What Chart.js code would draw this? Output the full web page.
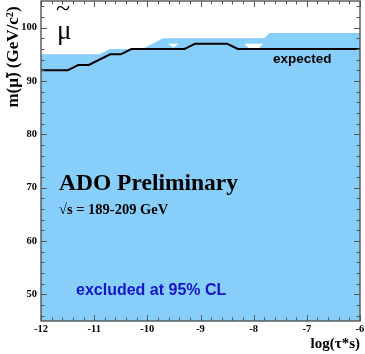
<!DOCTYPE html>
<html>
<head>
<meta charset="utf-8">
<script src="https://cdn.jsdelivr.net/npm/chart.js@4.4.0/dist/chart.umd.min.js"></script>
<style>
  html, body { margin: 0; padding: 0; background: #fff; }
  #wrap { width: 365px; height: 354px; }
</style>
</head>
<body>
<div id="wrap"><canvas id="limitChart"></canvas></div>
<script>
// expected limit (black line)
const expectedX = [-12, -11.5, -11.3, -11.1, -10.7, -10.5, -10.3, -9.3, -9.1, -8.5, -8.3, -6];
const expectedY = [92, 92, 93, 93, 95, 95, 96, 96, 97, 97, 96, 96];
// observed excluded region (upper edge)
const observedX = [-12, -10.9, -10.7, -10.1, -9.7, -7.8, -7.7, -6];
const observedY = [95, 95, 96, 96, 98, 98, 99, 99];
// small non-excluded pockets
const hole1X = [-9.61, -9.41, -9.51, -9.61];
const hole1Y = [97, 97, 96.3, 97];
const hole2X = [-8.18, -7.82, -7.9, -8.09, -8.18];
const hole2Y = [97, 97, 96.2, 96.2, 97];

const xTickLabels = [-12, -11, -10, -9, -8, -7, -6];
const yTickLabels = [50, 60, 70, 80, 90, 100];

const toPts = (xs, ys) => xs.map((x, i) => ({ x: x, y: ys[i] }));

const frameColor = '#555555';
const serifBold = 'bold {s}px "Liberation Serif", "DejaVu Serif", serif';
const f = s => serifBold.replace('{s}', s);

const decorations = {
    id: 'decorations',
    afterDraw(chart) {
        const ctx = chart.ctx;
        const xs = chart.scales.x, ys = chart.scales.y;
        const a = chart.chartArea;
        ctx.save();

        // ticks, inward, on all four sides
        ctx.strokeStyle = frameColor;
        ctx.lineWidth = 1;
        ctx.beginPath();
        for (let i = 0; i <= 30; i++) {
            const v = -12 + i * 0.2;
            const px = Math.round(xs.getPixelForValue(v)) + 0.5;
            const len = (i % 5 === 0) ? 6 : 3.5;
            ctx.moveTo(px, a.bottom); ctx.lineTo(px, a.bottom - len);
            ctx.moveTo(px, a.top); ctx.lineTo(px, a.top + len);
        }
        for (let v = 46; v <= 104; v += 2) {
            const py = Math.round(ys.getPixelForValue(v)) + 0.5;
            const len = (v % 10 === 0) ? 6 : 3.5;
            ctx.moveTo(a.left, py); ctx.lineTo(a.left + len, py);
            ctx.moveTo(a.right, py); ctx.lineTo(a.right - len, py);
        }
        ctx.stroke();

        // frame
        ctx.lineWidth = 1.4;
        ctx.strokeRect(a.left, a.top, a.right - a.left, a.bottom - a.top);

        // tick labels
        ctx.fillStyle = '#000';
        ctx.font = f(10.5);
        ctx.textAlign = 'center';
        ctx.textBaseline = 'middle';
        xTickLabels.forEach(v => ctx.fillText(String(v), xs.getPixelForValue(v), 329));
        ctx.textAlign = 'right';
        yTickLabels.forEach(v => ctx.fillText(String(v), 37, ys.getPixelForValue(v)));

        // axis titles
        ctx.font = f(15);
        ctx.textAlign = 'right';
        ctx.textBaseline = 'alphabetic';
        ctx.fillText('log(\u03c4*s)', 360, 348);

        ctx.save();
        ctx.translate(18, 57);
        ctx.rotate(-Math.PI / 2);
        ctx.font = f(17);
        ctx.textAlign = 'center';
        ctx.fillText('m(\u03bc\u0303) (GeV/c\u00b2)', 0, 0);
        ctx.restore();

        // particle symbol
        ctx.font = '27px "Liberation Serif", serif';
        ctx.textAlign = 'left';
        ctx.fillText('\u03bc', 57, 39);
        ctx.font = '26px "Liberation Serif", serif';
        ctx.textBaseline = 'middle';
        ctx.fillText('~', 56, 9);

        // annotations
        ctx.textBaseline = 'alphabetic';
        ctx.font = 'bold 13.5px "Liberation Sans", Arial, sans-serif';
        ctx.fillText('expected', 273, 63);

        ctx.font = f(23.5);
        ctx.fillText('ADO Preliminary', 59, 190);
        ctx.font = f(14.5);
        ctx.fillText('\u221as = 189-209 GeV', 59, 214);

        ctx.fillStyle = '#1414c8';
        ctx.font = 'bold 16px "Liberation Sans", Arial, sans-serif';
        ctx.fillText('excluded at 95% CL', 76, 295);

        ctx.restore();
    }
};

new Chart(document.getElementById('limitChart'), {
    type: 'line',
    data: {
        datasets: [
            {
                label: 'expected',
                data: toPts(expectedX, expectedY),
                borderColor: '#000',
                borderWidth: 2,
                pointRadius: 0,
                fill: false,
                order: 0
            },
            {
                label: 'hole1',
                data: toPts(hole1X, hole1Y),
                borderWidth: 0,
                borderColor: 'rgba(0,0,0,0)',
                backgroundColor: '#ffffff',
                pointRadius: 0,
                fill: 'shape',
                order: 1
            },
            {
                label: 'hole2',
                data: toPts(hole2X, hole2Y),
                borderWidth: 0,
                borderColor: 'rgba(0,0,0,0)',
                backgroundColor: '#ffffff',
                pointRadius: 0,
                fill: 'shape',
                order: 1
            },
            {
                label: 'observed',
                data: toPts(observedX, observedY),
                borderWidth: 0,
                borderColor: 'rgba(0,0,0,0)',
                backgroundColor: '#87cefa',
                pointRadius: 0,
                fill: 'start',
                order: 2
            }
        ]
    },
    options: {
        responsive: true,
        maintainAspectRatio: false,
        animation: false,
        layout: { padding: { left: 41, right: 5, top: 1, bottom: 33 } },
        plugins: {
            legend: { display: false },
            tooltip: { enabled: false }
        },
        scales: {
            x: { type: 'linear', min: -12, max: -6, display: false },
            y: { type: 'linear', min: 45, max: 105, display: false }
        }
    },
    plugins: [decorations]
});
</script>
</body>
</html>
